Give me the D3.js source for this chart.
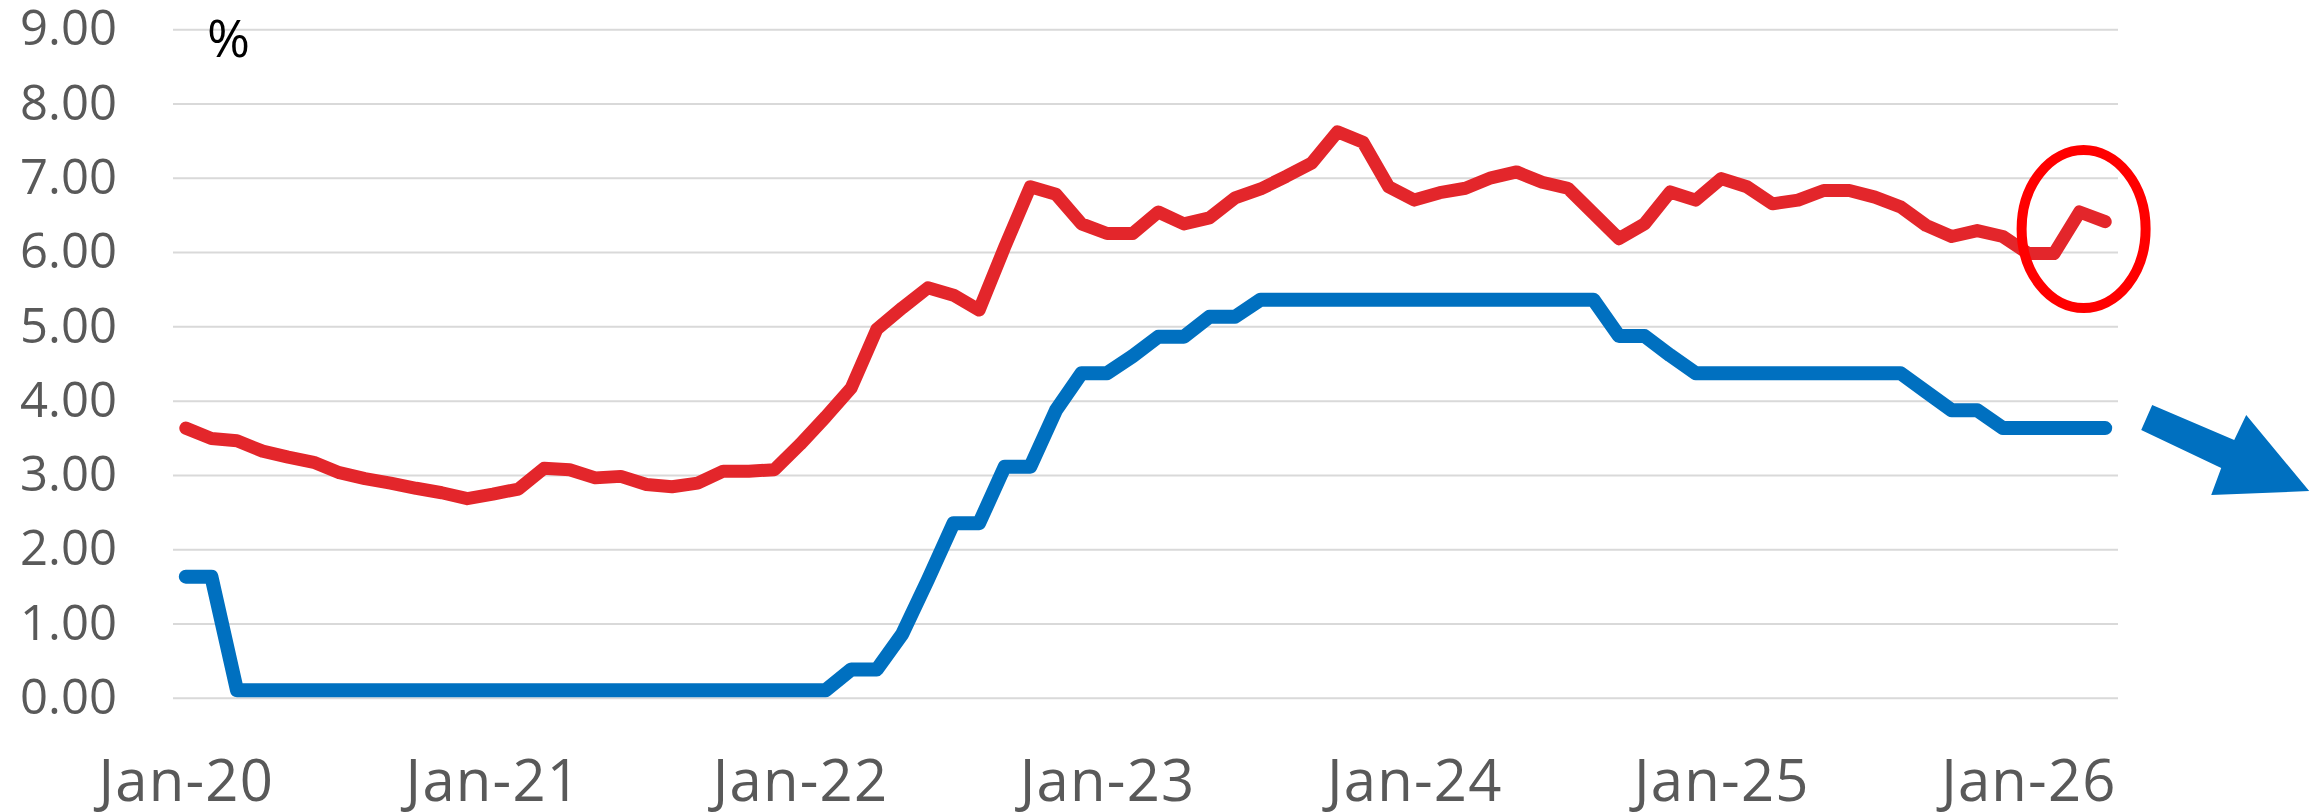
<!DOCTYPE html>
<html>
<head>
<meta charset="utf-8">
<script src="https://cdn.jsdelivr.net/npm/d3@7"></script>
<style>
  body { margin: 0; background: #fff; }
  #container { width: 2323px; height: 812px; }
  text { font-family: "Open Sans", "DejaVu Sans", sans-serif; }
</style>
</head>
<body>
<div id="container"></div>
<script>
// monthly, Jan-20 .. Apr-26
const months = d3.timeMonth.range(new Date(2020, 0, 1), new Date(2026, 4, 1));

// mortgage rate (red)
const mortgage = [
  3.63, 3.49, 3.46, 3.32, 3.24, 3.17, 3.03, 2.95, 2.89, 2.82, 2.76, 2.68,
  2.74, 2.81, 3.09, 3.07, 2.96, 2.98, 2.87, 2.84, 2.89, 3.05, 3.05, 3.07,
  3.41, 3.78, 4.17, 4.96, 5.25, 5.52, 5.42, 5.22, 6.07, 6.88, 6.78, 6.38,
  6.25, 6.25, 6.54, 6.38, 6.46, 6.73, 6.85, 7.02, 7.20, 7.62, 7.48, 6.88,
  6.70, 6.80, 6.86, 7.00, 7.08, 6.94, 6.86, 6.52, 6.18, 6.38, 6.81, 6.70,
  6.99, 6.88, 6.65, 6.70, 6.83, 6.83, 6.74, 6.61, 6.36, 6.21, 6.29, 6.21,
  5.98, 5.98, 6.54, 6.41
];

// policy rate (blue)
const policy = [
  1.63, 1.63, 0.10, 0.10, 0.10, 0.10, 0.10, 0.10, 0.10, 0.10, 0.10, 0.10,
  0.10, 0.10, 0.10, 0.10, 0.10, 0.10, 0.10, 0.10, 0.10, 0.10, 0.10, 0.10,
  0.10, 0.10, 0.38, 0.38, 0.86, 1.59, 2.35, 2.35, 3.11, 3.11, 3.87, 4.37,
  4.37, 4.60, 4.86, 4.86, 5.13, 5.13, 5.36, 5.36, 5.36, 5.36, 5.36, 5.36,
  5.36, 5.36, 5.36, 5.36, 5.36, 5.36, 5.36, 5.36, 4.87, 4.87, 4.61, 4.37,
  4.37, 4.37, 4.37, 4.37, 4.37, 4.37, 4.37, 4.37, 4.12, 3.87, 3.87, 3.63,
  3.63, 3.63, 3.63, 3.63
];

const yTicks = [0, 1, 2, 3, 4, 5, 6, 7, 8, 9];
const xTickLabels = ["Jan-20", "Jan-21", "Jan-22", "Jan-23", "Jan-24", "Jan-25", "Jan-26"];
const unitLabel = "%";

const margin = {top: 29.3, left: 173, bottom: 114.3, right: 205},
  width = 2323 - margin.left - margin.right,
  height = 812 - margin.top - margin.bottom;

let svg = d3.select("#container")
  .append("svg")
  .attr("width", 2323)
  .attr("height", 812);

let plot = svg.append("g")
  .attr("transform", "translate(" + margin.left + "," + margin.top + ")");

const x = d3.scalePoint()
  .domain(months)
  .range([0, width])
  .padding(0.5);

const y = d3.scaleLinear()
  .domain([0, 9])
  .range([height, 0]);

// gridlines
const grid = plot.append("g")
  .attr("class", "grid")
  .call(d3.axisLeft(y).tickValues(yTicks).tickSize(-width).tickFormat(""));
grid.select(".domain").remove();
grid.selectAll("line").attr("stroke", "#d9d9d9").attr("stroke-width", 2);

// y axis labels
const yAxis = plot.append("g")
  .call(d3.axisLeft(y).tickValues(yTicks).tickSize(0).tickPadding(56).tickFormat(d3.format(".2f")));
yAxis.select(".domain").remove();
yAxis.selectAll("text")
  .attr("font-size", 49)
  .attr("fill", "#595959")
  .style("font-family", "'Open Sans', sans-serif");

// x axis labels (January of each year)
const fmt = d3.timeFormat("%b-%y");
const janTicks = months.filter(d => xTickLabels.includes(fmt(d)));
const xAxis = plot.append("g")
  .attr("transform", "translate(0," + height + ")")
  .call(d3.axisBottom(x).tickValues(janTicks).tickSize(0).tickPadding(62).tickFormat(fmt));
xAxis.select(".domain").remove();
xAxis.selectAll("text")
  .attr("font-size", 58)
  .attr("letter-spacing", 1.2)
  .attr("fill", "#595959")
  .style("font-family", "'Open Sans', sans-serif");

// % unit
svg.append("text")
  .attr("x", 207)
  .attr("y", 57)
  .attr("font-size", 52)
  .attr("fill", "#000")
  .text(unitLabel);

const line = d3.line()
  .x((d, i) => x(months[i]))
  .y(d => y(d));

plot.append("path")
  .datum(policy)
  .attr("d", line)
  .attr("fill", "none")
  .attr("stroke", "#0070c0")
  .attr("stroke-width", 14)
  .attr("stroke-linejoin", "round")
  .attr("stroke-linecap", "round");

plot.append("path")
  .datum(mortgage)
  .attr("d", line)
  .attr("fill", "none")
  .attr("stroke", "#e3262b")
  .attr("stroke-width", 13)
  .attr("stroke-linejoin", "round")
  .attr("stroke-linecap", "round");

// circle round the last mortgage readings
const last = months.length - 1;
plot.append("ellipse")
  .attr("cx", x(months[last - 1]) + 4)
  .attr("cy", y(6.31))
  .attr("rx", 62)
  .attr("ry", 79)
  .attr("fill", "none")
  .attr("stroke", "#ff0000")
  .attr("stroke-width", 10);

// arrow pointing down after the policy line
const ax = x(months[last]), ay = y(policy[last]);
const arrow = [[47, -23], [129, 12], [141, -13], [204, 63], [106, 67], [116, 40], [36, 2]];
plot.append("polygon")
  .attr("points", arrow.map(p => (ax + p[0]) + "," + (ay + p[1])).join(" "))
  .attr("fill", "#0070c0");
</script>
</body>
</html>
